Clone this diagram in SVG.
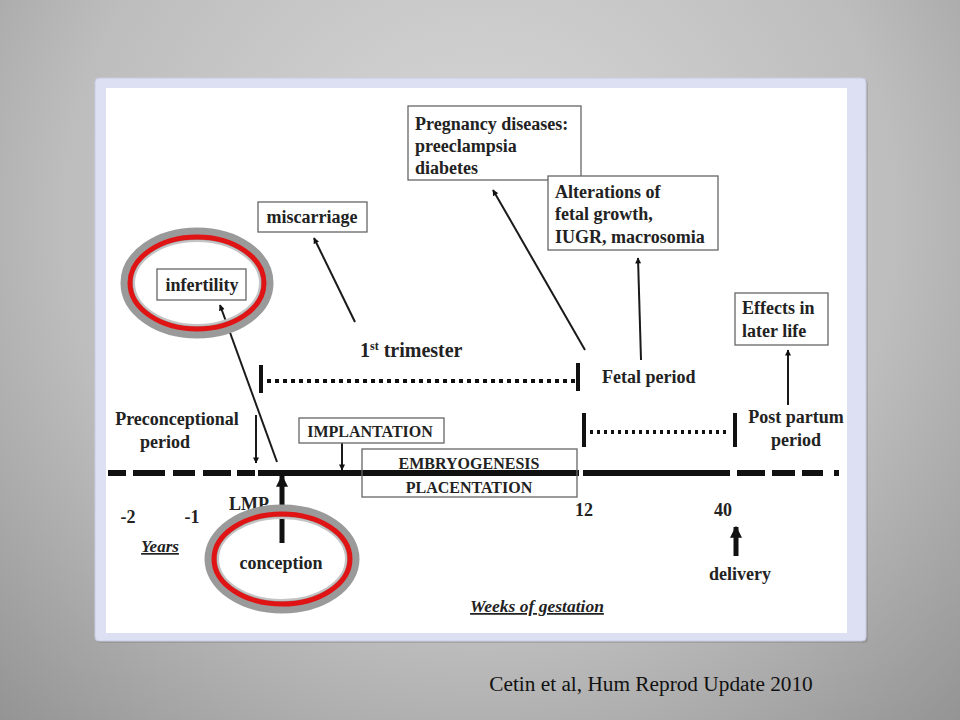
<svg xmlns="http://www.w3.org/2000/svg" width="960" height="720" viewBox="0 0 960 720">
<defs>
<radialGradient id="bg" cx="480" cy="220" r="760" gradientUnits="userSpaceOnUse">
<stop offset="0" stop-color="#d9d9d9"/>
<stop offset="0.55" stop-color="#bdbdbd"/>
<stop offset="1" stop-color="#8a8a8a"/>
</radialGradient>
<marker id="ah" viewBox="0 0 10 10" refX="9" refY="5" markerWidth="7" markerHeight="6" markerUnits="userSpaceOnUse" orient="auto">
<path d="M0,0 L10,5 L0,10 z" fill="#111"/>
</marker>
<marker id="ahb" viewBox="0 0 10 10" refX="9" refY="5" markerWidth="14" markerHeight="12" markerUnits="userSpaceOnUse" orient="auto">
<path d="M0,0 L10,5 L0,10 z" fill="#111"/>
</marker>
<style>
.t{font-family:"Liberation Serif","Times New Roman",serif;font-weight:bold;fill:#222;}
.box{fill:#fff;stroke:#666;stroke-width:1.3;}
.thin{stroke:#1a1a1a;stroke-width:2;fill:none;marker-end:url(#ah);}
.thick{stroke:#111;stroke-width:5;fill:none;marker-end:url(#ahb);}
.tick{stroke:#111;stroke-width:4;}
.grayring{fill:none;stroke:#9a9a9a;stroke-width:13;}
.grayin{fill:none;stroke:#c4c4c4;stroke-width:2;}
.redring{fill:none;stroke:#e01414;stroke-width:5;}
</style>
</defs>
<rect x="0" y="0" width="960" height="720" fill="url(#bg)"/>
<rect x="97" y="80" width="771" height="563" rx="4" fill="#7a7a7a" opacity="0.35"/>
<rect x="95" y="78" width="771" height="563" rx="4" fill="#dde0f3" stroke="#c8cbe0" stroke-width="1"/>
<rect x="106" y="88" width="741" height="545" fill="#ffffff"/>

<g id="connectors">
<line class="thin" x1="256" y1="415" x2="256" y2="463"/>
<line class="thin" x1="277" y1="462" x2="220" y2="305"/>
<line class="thin" x1="342" y1="443" x2="342" y2="470"/>
<line class="thin" x1="355" y1="322" x2="314" y2="238"/>
<line class="thin" x1="585" y1="350" x2="493" y2="190"/>
<line class="thin" x1="641" y1="360" x2="638" y2="258"/>
<line class="thin" x1="788" y1="405" x2="788" y2="350"/>
<line class="thick" x1="282" y1="543" x2="282" y2="476"/>
<line class="thick" x1="736" y1="556" x2="736" y2="527"/>
</g>

<g id="timeline">
<line x1="108" y1="473" x2="256" y2="473" stroke="#111" stroke-width="6" stroke-dasharray="18 7 32 8 22 8 28 6"/>
<line x1="258" y1="473" x2="579" y2="473" stroke="#111" stroke-width="6"/>
<line x1="583" y1="473" x2="730" y2="473" stroke="#111" stroke-width="6"/>
<line x1="737" y1="473" x2="839" y2="473" stroke="#111" stroke-width="6" stroke-dasharray="28 7 23 7 21 11 5 10"/>
</g>

<g id="trimester">
<line class="tick" x1="261" y1="365" x2="261" y2="393"/>
<line class="tick" x1="578" y1="363" x2="578" y2="391"/>
<line x1="267" y1="381" x2="575" y2="381" stroke="#111" stroke-width="4" stroke-dasharray="4 4"/>
<text class="t" x="360" y="357" font-size="20">1<tspan font-size="12" dy="-7">st</tspan><tspan dy="7"> trimester</tspan></text>
</g>

<g id="fetal">
<line class="tick" x1="584" y1="413" x2="584" y2="447"/>
<line class="tick" x1="735" y1="413" x2="735" y2="447"/>
<line x1="590" y1="432" x2="730" y2="432" stroke="#111" stroke-width="4" stroke-dasharray="3 4"/>
<text class="t" x="602" y="383" font-size="18">Fetal period</text>
</g>

<g id="pregnancy">
<rect class="box" x="408" y="106" width="173" height="74"/>
<text class="t" x="415" y="130" font-size="18">Pregnancy diseases:</text>
<text class="t" x="415" y="152" font-size="18">preeclampsia</text>
<text class="t" x="415" y="174" font-size="18">diabetes</text>
</g>

<g id="alterations">
<rect class="box" x="548" y="176" width="170" height="74"/>
<text class="t" x="555" y="198" font-size="18">Alterations of</text>
<text class="t" x="555" y="220" font-size="18">fetal growth,</text>
<text class="t" x="555" y="243" font-size="18">IUGR, macrosomia</text>
</g>

<g id="miscarriage">
<rect class="box" x="258" y="202" width="109" height="30"/>
<text class="t" x="312" y="223" font-size="18" text-anchor="middle">miscarriage</text>
</g>

<g id="infertility">
<ellipse class="grayring" cx="197" cy="283" rx="70" ry="49"/>
<ellipse class="redring" cx="197" cy="283" rx="67" ry="46"/>
<ellipse class="grayin" cx="197" cy="283" rx="63" ry="42"/>
<rect class="box" x="157" y="269" width="89" height="31"/>
<text class="t" x="202" y="291" font-size="18" text-anchor="middle">infertility</text>
</g>

<g id="effects">
<rect class="box" x="735" y="293" width="93" height="52"/>
<text class="t" x="742" y="314" font-size="18">Effects in</text>
<text class="t" x="742" y="337" font-size="18">later life</text>
</g>

<g id="preconceptional">
<text class="t" x="177" y="425" font-size="18" text-anchor="middle">Preconceptional</text>
<text class="t" x="165" y="448" font-size="18" text-anchor="middle">period</text>
</g>

<g id="postpartum">
<text class="t" x="796" y="423" font-size="18" text-anchor="middle">Post partum</text>
<text class="t" x="796" y="446" font-size="18" text-anchor="middle">period</text>
</g>

<g id="implantation">
<rect class="box" x="299" y="418" width="145" height="25"/>
<text class="t" x="370" y="437" font-size="16" text-anchor="middle">IMPLANTATION</text>
</g>

<g id="embryo">
<rect class="box" x="362" y="449" width="215" height="48" style="fill:none"/>
<text class="t" x="469" y="469" font-size="16" text-anchor="middle">EMBRYOGENESIS</text>
<text class="t" x="469" y="493" font-size="16" text-anchor="middle">PLACENTATION</text>
</g>

<g id="labels">
<text class="t" x="249" y="510" font-size="18" text-anchor="middle">LMP</text>
<text class="t" x="128" y="523" font-size="18" text-anchor="middle">-2</text>
<text class="t" x="192" y="523" font-size="18" text-anchor="middle">-1</text>
<text class="t" x="160" y="552" font-size="17" text-anchor="middle" font-style="italic" font-weight="normal" text-decoration="underline">Years</text>
<text class="t" x="584" y="516" font-size="18" text-anchor="middle">12</text>
<text class="t" x="723" y="516" font-size="18" text-anchor="middle">40</text>
<text class="t" x="740" y="580" font-size="18" text-anchor="middle">delivery</text>
<text class="t" x="537" y="612" font-size="17.5" text-anchor="middle" font-style="italic" font-weight="normal" text-decoration="underline">Weeks of gestation</text>
</g>

<g id="conception">
<ellipse class="grayring" cx="282" cy="559" rx="71" ry="48"/>
<ellipse class="redring" cx="282" cy="559" rx="68" ry="45"/>
<ellipse class="grayin" cx="282" cy="559" rx="64" ry="41"/>
<text class="t" x="281" y="569" font-size="18" text-anchor="middle">conception</text>
</g>

<text x="651" y="691" font-family="Liberation Serif,'Times New Roman',serif" font-size="21.3" text-anchor="middle" fill="#111">Cetin et al, Hum Reprod Update 2010</text>
</svg>
